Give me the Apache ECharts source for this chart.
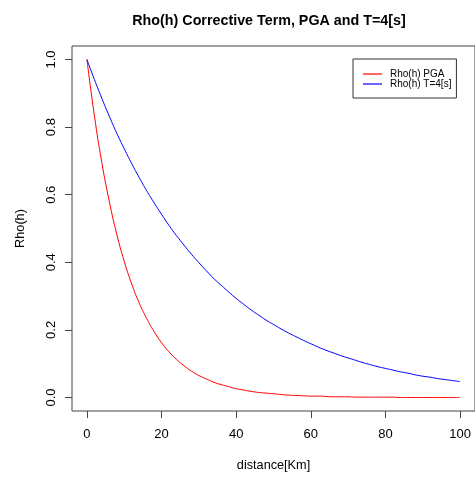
<!DOCTYPE html>
<html>
<head>
<meta charset="utf-8">
<script src="https://cdn.jsdelivr.net/npm/echarts@6/dist/echarts.min.js"></script>
<style>html,body{margin:0;padding:0;background:#fff;}#c{width:475px;height:477px;}</style>
</head>
<body>
<div id="c"></div>
<script>
const distance = [0,2,4,6,8,10,12,14,16,18,20,22,24,26,28,30,32,34,36,38,40,42,44,46,48,50,52,54,56,58,60,62,64,66,68,70,72,74,76,78,80,82,84,86,88,90,92,94,96,98,100];
const rhoPGA = [1.000,0.834,0.695,0.580,0.483,0.403,0.336,0.280,0.234,0.195,0.162,0.135,0.113,0.094,0.078,0.065,0.055,0.045,0.038,0.032,0.026,0.022,0.018,0.015,0.013,0.011,0.009,0.007,0.006,0.005,0.004,0.004,0.003,0.002,0.002,0.002,0.001,0.001,0.001,0.001,0.001,0.001,0.000,0.000,0.000,0.000,0.000,0.000,0.000,0.000,0.000];
const rhoT4 = [1.000,0.941,0.885,0.832,0.782,0.736,0.692,0.651,0.612,0.576,0.542,0.509,0.479,0.451,0.424,0.399,0.375,0.352,0.332,0.312,0.293,0.276,0.259,0.244,0.229,0.216,0.203,0.191,0.180,0.169,0.159,0.149,0.140,0.132,0.124,0.117,0.110,0.103,0.097,0.091,0.086,0.081,0.076,0.072,0.067,0.063,0.060,0.056,0.053,0.050,0.047];
const xTicks = [0,20,40,60,80,100];
const yTicks = [0,0.2,0.4,0.6,0.8,1.0];

const chart = echarts.init(document.getElementById('c'), null, {renderer:'canvas'});
const font = 'Liberation Sans, Arial, Helvetica, sans-serif';
chart.setOption({
  animation: false,
  backgroundColor: '#fff',
  title: {
    text: 'Rho(h) Corrective Term, PGA and T=4[s]',
    left: 264, top: 9, textAlign: 'center',
    textStyle: {fontFamily: font, fontSize: 14.3, fontWeight: 'bold', color: '#000'}
  },
  legend: {
    left: 353, top: 59, orient: 'vertical',
    borderColor: '#333', borderWidth: 1, borderRadius: 0,
    padding: [10, 5, 9, 10],
    icon: 'rect',
    itemWidth: 19, itemHeight: 1.2, itemGap: 0,
    textStyle: {fontFamily: font, fontSize: 10, color: '#000', padding: [0,0,0,3], lineHeight: 10},
    data: ['Rho(h) PGA', 'Rho(h) T=4[s]']
  },
  grid: {left: 72, top: 46, width: 410, height: 367, show: true, borderColor: '#444', borderWidth: 1, backgroundColor: 'transparent'},
  xAxis: {
    type: 'value', min: -4, max: 104,
    name: 'distance[Km]', nameLocation: 'middle', nameGap: 48,
    nameTextStyle: {fontFamily: font, fontSize: 12.7, color: '#000'},
    axisLine: {show: false, onZero: false},
    splitLine: {show: false},
    axisTick: {show: true, inside: false, length: 7, lineStyle: {color: '#444'}, customValues: xTicks},
    axisLabel: {fontFamily: font, fontSize: 13, color: '#000', margin: 17, customValues: xTicks, formatter: v => String(v)}
  },
  yAxis: {
    type: 'value', min: -0.04, max: 1.04,
    name: 'Rho(h)', nameLocation: 'middle', nameGap: 45, nameRotate: 90,
    nameTextStyle: {fontFamily: font, fontSize: 12.7, color: '#000'},
    axisLine: {show: false, onZero: false},
    splitLine: {show: false},
    axisTick: {show: true, inside: false, length: 7, lineStyle: {color: '#444'}, customValues: yTicks},
    axisLabel: {fontFamily: font, fontSize: 13, color: '#000', margin: 14, rotate: 90, customValues: yTicks, formatter: v => v.toFixed(1)}
  },
  series: [
    {name: 'Rho(h) PGA', type: 'line', smooth: true, showSymbol: false, symbol: 'none',
     lineStyle: {color: '#ff0000', width: 1}, itemStyle: {color: '#ff0000'},
     data: distance.map((d, i) => [d, rhoPGA[i]])},
    {name: 'Rho(h) T=4[s]', type: 'line', smooth: true, showSymbol: false, symbol: 'none',
     lineStyle: {color: '#0000ff', width: 1}, itemStyle: {color: '#0000ff'},
     data: distance.map((d, i) => [d, rhoT4[i]])}
  ]
});
</script>
</body>
</html>
